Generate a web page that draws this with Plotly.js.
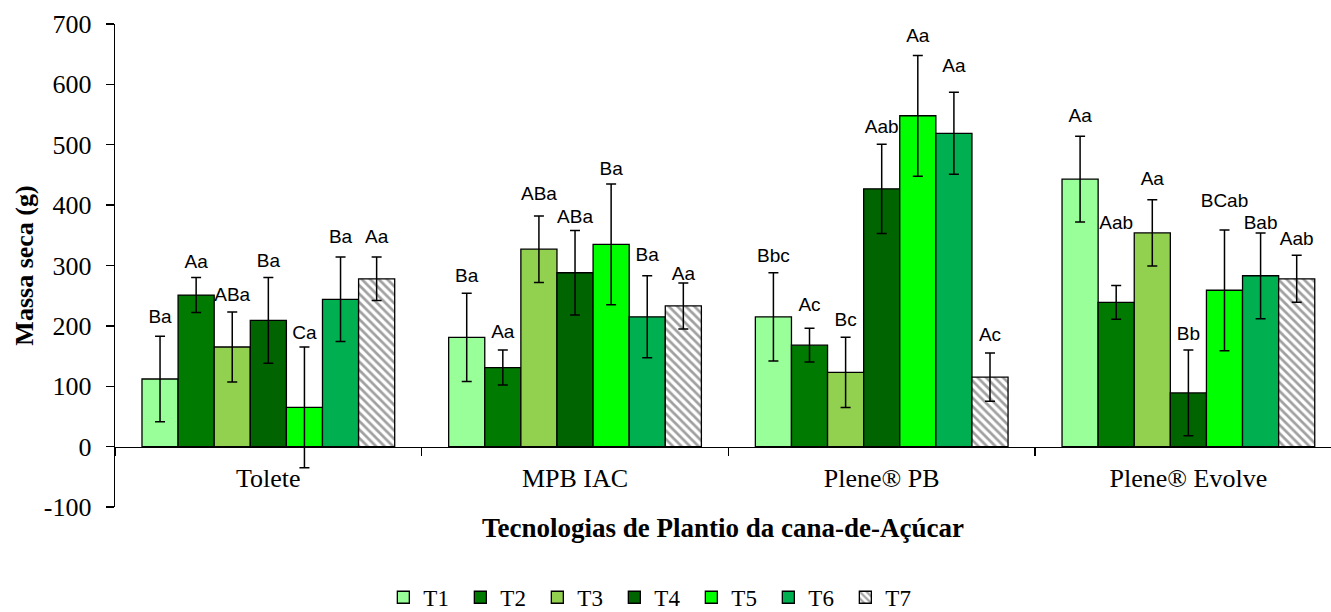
<!DOCTYPE html>
<html>
<head>
<meta charset="utf-8">
<script src="https://cdn.plot.ly/plotly-3.0.1.min.js"></script>
<style>html,body{margin:0;padding:0;background:#fff;}#chart{width:1331px;height:612px;}</style>
</head>
<body>
<div id="chart"></div>
<script>
// Categories (planting technologies)
const categories = ["Tolete", "MPB IAC", "Plene® PB", "Plene® Evolve"];
const seriesNames = ["T1", "T2", "T3", "T4", "T5", "T6", "T7"];

// Y axis tick labels
const yTickVals = [-100, 0, 100, 200, 300, 400, 500, 600, 700];
const yTickText = ["-100", "0", "100", "200", "300", "400", "500", "600", "700"];

// Mean dry mass (g) per treatment
const T1 = [112, 181, 215, 443];
const T2 = [251, 131, 168, 239];
const T3 = [165, 327, 123, 354];
const T4 = [209, 288, 427, 89];
const T5 = [65, 335, 548, 259];
const T6 = [244, 215, 519, 283];
const T7 = [278, 233, 115, 278];

// Error bar half-lengths
const T1err = [71, 73, 73, 71];
const T2err = [29, 29, 28, 28];
const T3err = [58, 55, 58, 55];
const T4err = [71, 70, 74, 71];
const T5err = [100, 100, 100, 100];
const T6err = [70, 68, 68, 71];
const T7err = [36, 38, 40, 39];

// Significance letters
const T1letters = ["Ba", "Ba", "Bbc", "Aa"];
const T2letters = ["Aa", "Aa", "Ac", "Aab"];
const T3letters = ["ABa", "ABa", "Bc", "Aa"];
const T4letters = ["Ba", "ABa", "Aab", "Bb"];
const T5letters = ["Ca", "Ba", "Aa", "BCab"];
const T6letters = ["Ba", "Ba", "Aa", "Bab"];
const T7letters = ["Aa", "Aa", "Ac", "Aab"];

// Height (in g, axis units) at which each letter label sits
const T1labelY = [212, 281, 313, 546];
const T2labelY = [303, 188, 233, 368];
const T3labelY = [249, 416, 207, 441];
const T4labelY = [306, 379, 527, 185];
const T5labelY = [186, 458, 678, 405];
const T6labelY = [345, 316, 629, 368];
const T7labelY = [345, 284, 182, 342];

const values = [T1, T2, T3, T4, T5, T6, T7];
const errors = [T1err, T2err, T3err, T4err, T5err, T6err, T7err];
const letters = [T1letters, T2letters, T3letters, T4letters, T5letters, T6letters, T7letters];
const labelYs = [T1labelY, T2labelY, T3labelY, T4labelY, T5labelY, T6labelY, T7labelY];

const colors = ["#99FF99", "#007A00", "#92D050", "#006400", "#00FF00", "#00B050", "#FFFFFF"];

const traces = [];
seriesNames.forEach((name, i) => {
  const marker = {color: colors[i], line: {color: "#000", width: 1.3}};
  if (name === "T7") {
    marker.pattern = {shape: "\\", fgcolor: "#A0A0A0", bgcolor: "#FFFFFF", size: 6, solidity: 0.45};
  }
  traces.push({
    type: "bar",
    name: name,
    x: categories,
    y: values[i],
    offsetgroup: name,
    marker: marker,
    error_y: {type: "data", array: errors[i], visible: true, color: "#000", thickness: 1.5, width: 5},
    hoverinfo: "skip"
  });
});
seriesNames.forEach((name, i) => {
  traces.push({
    type: "scatter",
    mode: "text",
    x: categories,
    y: labelYs[i],
    text: letters[i],
    offsetgroup: name,
    textposition: "middle center",
    textfont: {family: "Liberation Sans, Arial, sans-serif", size: 19, color: "#000"},
    showlegend: false,
    cliponaxis: false,
    hoverinfo: "skip"
  });
});

const serif = "Liberation Serif, Times New Roman, serif";
const layout = {
  width: 1331,
  height: 612,
  margin: {l: 115, r: 0, t: 24, b: 105, autoexpand: false},
  paper_bgcolor: "#fff",
  plot_bgcolor: "#fff",
  barmode: "group",
  bargap: 0.176,
  bargroupgap: 0,
  scattermode: "group",
  scattergap: 0.176,
  showlegend: true,
  legend: {
    orientation: "h",
    xref: "container", yref: "container",
    x: 0.288, xanchor: "left",
    y: 0.024, yanchor: "middle",
    entrywidth: 32, entrywidthmode: "pixels",
    font: {family: serif, size: 23, color: "#000"},
    traceorder: "normal"
  },
  xaxis: {
    type: "category",
    range: [-0.5, 3.465],
    anchor: "free",
    position: 0.125,
    showline: true, linecolor: "#000", linewidth: 1.3,
    ticks: "outside", tickson: "boundaries", ticklen: 8, tickcolor: "#000", tickwidth: 1.3,
    showgrid: false, zeroline: false,
    tickfont: {family: serif, size: 26, color: "#000"},
    ticklabelstandoff: 8,
    title: {text: "<b>Tecnologias de Plantio da cana-de-Açúcar</b>", font: {family: serif, size: 27, color: "#000"}, standoff: 26}
  },
  yaxis: {
    range: [-100, 700],
    tickmode: "array",
    tickvals: yTickVals,
    ticktext: yTickText,
    showline: true, linecolor: "#000", linewidth: 1.3,
    ticks: "outside", ticklen: 8, tickcolor: "#000", tickwidth: 1.3,
    showgrid: false, zeroline: false,
    tickfont: {family: serif, size: 26, color: "#000"},
    ticklabelstandoff: 9,
    title: {text: "<b>Massa seca (g)</b>", font: {family: serif, size: 26, color: "#000"}, standoff: 2}
  }
};

Plotly.newPlot("chart", traces, layout, {displayModeBar: false, staticPlot: true});
</script>
</body>
</html>
